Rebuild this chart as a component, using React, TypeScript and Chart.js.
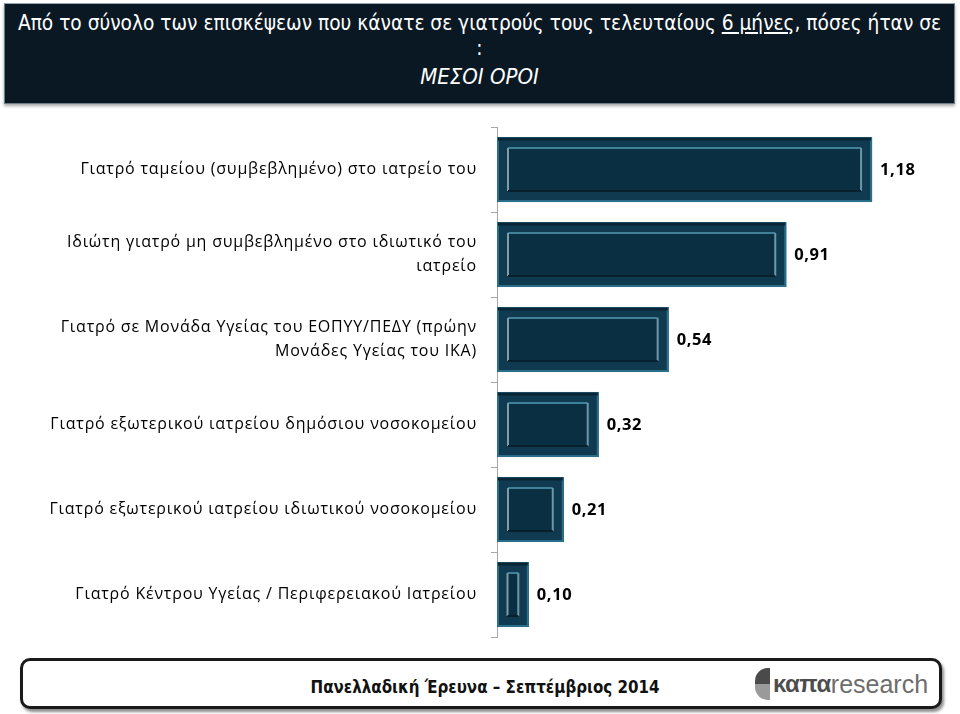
import React, { useEffect, useRef } from "react";
import { Chart, registerables } from "chart.js";

Chart.register(...registerables);

const categories: (string | string[])[] = [
  "Γιατρό ταμείου (συμβεβλημένο) στο ιατρείο του",
  ["Ιδιώτη γιατρό μη συμβεβλημένο στο ιδιωτικό του", "ιατρείο"],
  ["Γιατρό σε Μονάδα Υγείας του ΕΟΠΥΥ/ΠΕΔΥ (πρώην", "Μονάδες Υγείας του ΙΚΑ)"],
  "Γιατρό εξωτερικού ιατρείου δημόσιου νοσοκομείου",
  "Γιατρό εξωτερικού ιατρείου ιδιωτικού νοσοκομείου",
  "Γιατρό Κέντρου Υγείας / Περιφερειακού Ιατρείου",
];
const values: number[] = [1.18, 0.91, 0.54, 0.32, 0.21, 0.1];
const titleLine1 = "Από το σύνολο των επισκέψεων που κάνατε σε γιατρούς τους τελευταίους ";
const titleUnderlined = "6 μήνες";
const titleLine1End = ", πόσες ήταν σε";
const titleLine2 = ":";
const titleLine3 = "ΜΕΣΟΙ ΟΡΟΙ";
const footerText = "Πανελλαδική Έρευνα – Σεπτέμβριος 2014";

const fmt = (v: number) => v.toFixed(2).replace(".", ",");

const spacingPlugin = {
  id: "spacing",
  beforeDraw(chart: any) {
    chart.ctx.letterSpacing = "0.8px";
  },
};

const bevelPlugin = {
  id: "bevel",
  afterDatasetsDraw(chart: any) {
    const ctx = chart.ctx;
    const meta = chart.getDatasetMeta(0);
    meta.data.forEach((bar: any, i: number) => {
      const { x, y, base, height } = bar.getProps(["x", "y", "base", "height"], true);
      const left = Math.min(base, x);
      const w = Math.abs(x - base);
      const top = y - height / 2;
      const h = height;
      ctx.save();
      ctx.letterSpacing = "0px";
      // outer frame
      ctx.fillStyle = "#0f3a4f";
      ctx.fillRect(left, top, w, h);
      ctx.strokeStyle = "#2a6f89";
      ctx.lineWidth = 2;
      ctx.strokeRect(left + 1, top + 1, w - 2, h - 2);
      ctx.strokeStyle = "#0a2636";
      ctx.lineWidth = 3;
      ctx.beginPath();
      ctx.moveTo(left + 1, top + 2);
      ctx.lineTo(left + w - 1, top + 2);
      ctx.stroke();
      // inner panel
      const ix = Math.min(11, w * 0.33);
      const iy = 11;
      const il = left + ix;
      const it = top + iy;
      const iw = w - 2 * ix;
      const ih = h - 2 * iy;
      ctx.fillStyle = "#0a2f42";
      ctx.fillRect(il, it, iw, ih);
      ctx.lineWidth = 2;
      ctx.strokeStyle = "#3f8199";
      ctx.beginPath();
      ctx.moveTo(il, it);
      ctx.lineTo(il + iw, it);
      ctx.stroke();
      ctx.strokeStyle = "#7d9ea8";
      ctx.beginPath();
      ctx.moveTo(il, it + ih);
      ctx.lineTo(il, it);
      ctx.stroke();
      ctx.strokeStyle = "#6b98a8";
      ctx.beginPath();
      ctx.moveTo(il + iw, it);
      ctx.lineTo(il + iw, it + ih);
      ctx.stroke();
      ctx.strokeStyle = "#081f2c";
      ctx.beginPath();
      ctx.moveTo(il, it + ih);
      ctx.lineTo(il + iw, it + ih);
      ctx.stroke();
      // value label
      ctx.letterSpacing = "0.6px";
      ctx.fillStyle = "#000";
      ctx.font = "bold 16.5px 'Open Sans'";
      ctx.textBaseline = "middle";
      ctx.textAlign = "left";
      ctx.fillText(fmt(values[i]), left + w + 8, y + 1);
      ctx.restore();
    });
  },
};

export default function App() {
  const ref = useRef<HTMLCanvasElement>(null);
  useEffect(() => {
    if (!ref.current) return;
    const chart = new Chart(ref.current, {
      type: "bar",
      data: {
        labels: categories,
        datasets: [
          {
            data: values,
            backgroundColor: "rgba(0,0,0,0)",
            borderWidth: 0,
            barPercentage: 0.765,
            categoryPercentage: 1,
          },
        ],
      },
      options: {
        indexAxis: "y",
        animation: false,
        responsive: false,
        maintainAspectRatio: false,
        layout: { padding: { top: 17, bottom: 13, left: 0, right: 18 } },
        plugins: { legend: { display: false }, tooltip: { enabled: false } },
        scales: {
          x: { display: false, min: 0, max: 1.4 },
          y: {
            afterFit: (s: any) => {
              s.width = 497;
              s.paddingTop = 0;
              s.paddingBottom = 0;
            },
            border: { display: true, color: "#a6a6a6", width: 1 },
            grid: {
              offset: true,
              drawOnChartArea: false,
              drawTicks: true,
              tickLength: 6,
              color: "#a6a6a6",
            },
            ticks: {
              padding: 14,
              color: "#000",
              font: { family: "'Open Sans'", size: 16, lineHeight: 1.55 },
            },
          },
        },
      },
      plugins: [spacingPlugin, bevelPlugin],
    });
    return () => chart.destroy();
  }, []);

  return (
    <div style={{ position: "absolute", left: 0, top: 0, width: 960, height: 714, background: "#fff", overflow: "hidden" }}>
      <div
        style={{
          position: "absolute",
          left: 4,
          top: 3,
          width: 951,
          height: 101,
          background: "#0a1823",
          border: "1px solid #6f7f88",
          borderTopColor: "#9aa6ad",
          boxShadow: "0 2px 3px rgba(0,0,0,0.35)",
          color: "#fff",
          fontFamily: "'DejaVu Sans Condensed', 'DejaVu Sans'",
          fontSize: 20.7,
          textAlign: "center",
          lineHeight: "25px",
          paddingTop: 7,
          boxSizing: "border-box",
        }}
      >
        <div>
          {titleLine1}
          <span style={{ textDecoration: "underline" }}>{titleUnderlined}</span>
          {titleLine1End}
        </div>
        <div>{titleLine2}</div>
        <div style={{ fontStyle: "italic", fontSize: 22, marginTop: 3 }}>{titleLine3}</div>
      </div>
      <canvas ref={ref} width={960} height={540} style={{ position: "absolute", left: 0, top: 110 }} />
      <div
        style={{
          position: "absolute",
          left: 20,
          top: 658,
          width: 922,
          height: 51,
          border: "3px solid #1a1a1a",
          borderRadius: 10,
          boxSizing: "border-box",
          boxShadow: "2px 3px 3px rgba(0,0,0,0.45)",
          background: "#fff",
        }}
      >
        <div
          style={{
            position: "absolute",
            left: 0,
            right: 0,
            top: 16,
            textAlign: "center",
            fontFamily: "'DejaVu Sans Condensed', 'DejaVu Sans'",
            fontWeight: "bold",
            fontSize: 16.8,
            color: "#111",
            paddingLeft: 8,
          }}
        >
          {footerText}
        </div>
        <div style={{ position: "absolute", left: 732, top: 4, height: 38, display: "flex", alignItems: "center" }}>
          <div style={{ position: "relative", width: 15, height: 32, marginRight: 3 }}>
            <div style={{ position: "absolute", left: 0, top: 0, width: 15, height: 16, background: "#4a4a4a", borderTopLeftRadius: 13 }} />
            <div style={{ position: "absolute", left: 0, top: 16, width: 15, height: 16, background: "#9a9a9a", borderBottomLeftRadius: 13 }} />
          </div>
          <span style={{ fontFamily: "'Liberation Sans', Arial", fontWeight: "bold", fontSize: 24, color: "#4d4d4d", letterSpacing: -0.5 }}>καπα</span>
          <span style={{ fontFamily: "'Liberation Sans Narrow', 'Liberation Sans'", fontSize: 25, color: "#6d6d6d" }}>research</span>
        </div>
      </div>
    </div>
  );
}
